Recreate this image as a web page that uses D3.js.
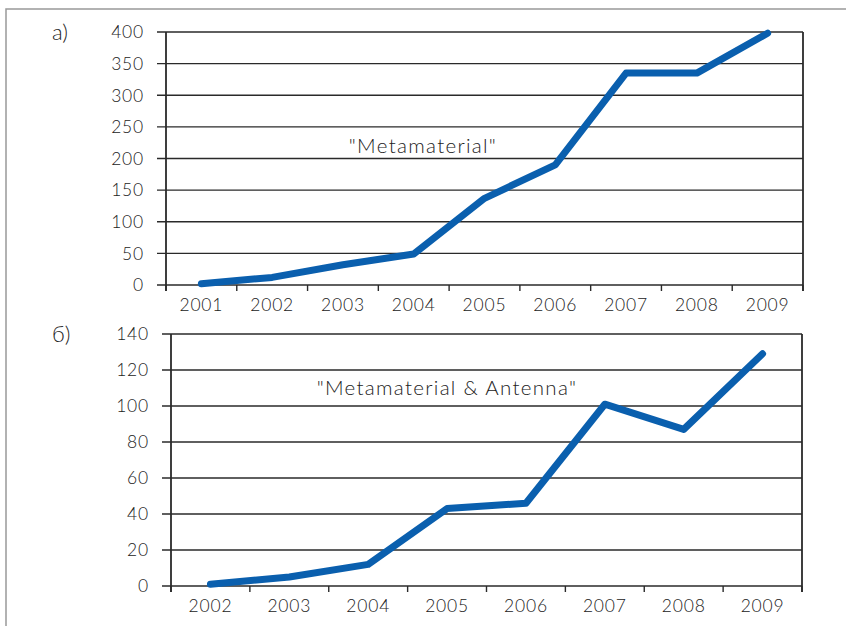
<!DOCTYPE html>
<html><head><meta charset="utf-8">
<script src="https://cdn.jsdelivr.net/npm/d3@7/dist/d3.min.js"></script>
<style>body{margin:0;background:#fff}svg{display:block}text{font-family:Lato,"Open Sans",sans-serif;fill:#222;font-weight:300}</style>
</head><body>
<svg id="c" width="846" height="626"></svg>
<script>
const yearsA = ["2001","2002","2003","2004","2005","2006","2007","2008","2009"];
const valuesA = [2, 12, 32, 49, 137, 190, 335, 335, 398];
const ticksA = [0,50,100,150,200,250,300,350,400];
const titleA = "\"Metamaterial\"";
const panelA = "а)";

const yearsB = ["2002","2003","2004","2005","2006","2007","2008","2009"];
const valuesB = [1, 5, 12, 43, 46, 101, 87, 129];
const ticksB = [0,20,40,60,80,100,120,140];
const titleB = "\"Metamaterial & Antenna\"";
const panelB = "б)";

const svg = d3.select("#c");
// outer frame
svg.append("path").attr("d","M6,626 L6,9 L846,9").attr("fill","none").attr("stroke","#999").attr("stroke-width",1.5);

function panel(cfg){
  const g = svg.append("g");
  const x = d3.scaleBand().domain(cfg.years).range([cfg.l, cfg.r]);
  const y = d3.scaleLinear().domain([0, cfg.max]).range([cfg.b, cfg.t]);
  g.selectAll(".grid").data(cfg.ticks).join("line")
    .attr("x1", cfg.l - 9).attr("x2", cfg.r)
    .attr("y1", d=>y(d)).attr("y2", d=>y(d))
    .attr("stroke","#2a2a2a").attr("stroke-width",1.4);
  g.selectAll(".yl").data(cfg.ticks).join("text")
    .attr("x", cfg.l - 22).attr("y", d=>y(d)).attr("dy","0.36em")
    .attr("text-anchor","end").attr("font-size",17.5).attr("letter-spacing","0.8px").text(d=>d);
  g.append("line").attr("x1",cfg.l).attr("x2",cfg.l).attr("y1",cfg.t).attr("y2",cfg.b+6).attr("stroke","#2a2a2a").attr("stroke-width",1.8);
  g.append("line").attr("x1",cfg.r).attr("x2",cfg.r).attr("y1",cfg.t).attr("y2",cfg.b+6).attr("stroke","#2a2a2a").attr("stroke-width",1.8);
  const bounds = cfg.years.map(d=>x(d)).concat([cfg.r]);
  g.selectAll(".xt").data(bounds).join("line")
    .attr("x1",d=>d).attr("x2",d=>d).attr("y1",cfg.b).attr("y2",cfg.b+6)
    .attr("stroke","#2a2a2a").attr("stroke-width",1.4);
  g.selectAll(".xl").data(cfg.years).join("text")
    .attr("x", d=>x(d)+x.bandwidth()/2).attr("y", cfg.b + 26)
    .attr("text-anchor","middle").attr("font-size",17.5).attr("letter-spacing","0.8px").text(d=>d);
  const line = d3.line().x((d,i)=>x(cfg.years[i])+x.bandwidth()/2).y(d=>y(d));
  g.append("path").datum(cfg.values).attr("d", line)
    .attr("fill","none").attr("stroke","#0a5fae").attr("stroke-width",7)
    .attr("stroke-linecap","round").attr("stroke-linejoin","round");
  g.append("text").attr("x",cfg.tx).attr("y",cfg.ty).attr("text-anchor","middle").attr("font-size",20.5).attr("letter-spacing","1.3px").text(cfg.title);
  g.append("text").attr("x",52).attr("y",cfg.t+8).attr("font-size",22).text(cfg.panel);
}

panel({years:yearsA, values:valuesA, ticks:ticksA, max:400, l:166, r:803, t:32, b:285, title:titleA, tx:423, ty:153, panel:panelA});
panel({years:yearsB, values:valuesB, ticks:ticksB, max:140, l:171, r:802, t:334, b:586, title:titleB, tx:447, ty:395, panel:panelB});
</script>
</body></html>
